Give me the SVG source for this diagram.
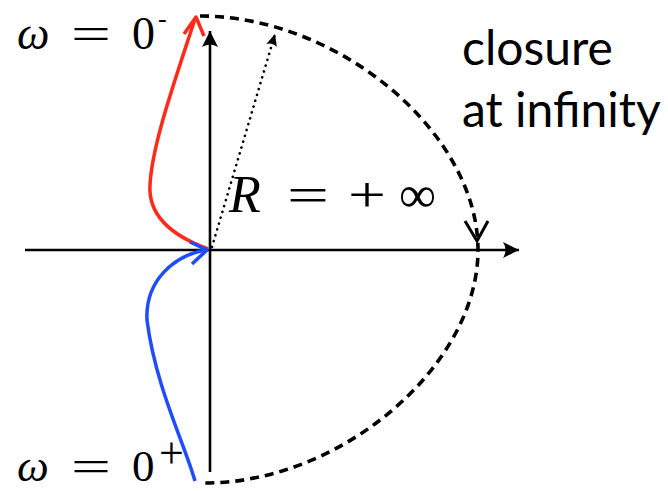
<svg xmlns="http://www.w3.org/2000/svg" width="668" height="491" viewBox="0 0 668 491">
<defs>
<style>
.axis{stroke:#000;stroke-width:2.6;fill:none}
.math{font-family:"Liberation Serif","Times New Roman",serif;fill:#000}
.it{font-style:italic}
.sans{font-family:Lato,"Noto Sans",sans-serif;font-size:48px;fill:#000}
.head{fill:#000;stroke:none}
</style>
<marker id="ah" viewBox="0 0 20 20" refX="18" refY="10" markerWidth="20" markerHeight="20" markerUnits="userSpaceOnUse" orient="auto">
<path d="M18,10 L2,2 Q7,10 2,18 Z" class="head"/>
</marker>
<marker id="ahs" viewBox="0 0 14 14" refX="13" refY="7" markerWidth="14" markerHeight="14" markerUnits="userSpaceOnUse" orient="auto">
<path d="M13,7 L1,1.5 Q4.5,7 1,12.5 Z" class="head"/>
</marker>
</defs>
<g id="axes">
<line class="axis" x1="25" y1="250" x2="519" y2="250" marker-end="url(#ah)"/>
<line class="axis" x1="210" y1="472" x2="210" y2="31" marker-end="url(#ah)"/>
</g>
<g id="connectors">
<path id="closure-arc" d="M200,16 C339,16 478,133 478,250 C478,366 341,483 205,483" fill="none" stroke="#000" stroke-width="3.6" stroke-dasharray="9,6"/>
<polyline points="465,221 477,241 488,221" fill="none" stroke="#000" stroke-width="3"/>
<line x1="212" y1="247" x2="275" y2="34" stroke="#000" stroke-width="2.6" stroke-dasharray="0.1,6" stroke-linecap="round" marker-end="url(#ahs)"/>
<path id="red-curve" d="M208,249 C170,235 148,215 150,185 C152,145 175,80 195,19" fill="none" stroke="#ff2a1a" stroke-width="3.5"/>
<polyline points="184,34 196,17 204,36" fill="none" stroke="#ff2a1a" stroke-width="3.5" stroke-linejoin="round"/>
<path id="blue-curve" d="M195,481 C185,445 155,385 147,320 C145,280 175,255 206,250" fill="none" stroke="#1f4cff" stroke-width="3.5"/>
<polyline points="190,242 207,250 192,264" fill="none" stroke="#1f4cff" stroke-width="3.5" stroke-linejoin="round"/>
</g>
<g id="label-top">
<text class="math it" x="17" y="49" font-size="46">ω</text>
<text class="math" x="71" y="49" font-size="46" textLength="40" lengthAdjust="spacingAndGlyphs">=</text>
<text class="math" x="132" y="49" font-size="46">0</text>
<text class="math" x="158" y="27" font-size="26">-</text>
</g>
<g id="label-bottom">
<text class="math it" x="17" y="481" font-size="45">ω</text>
<text class="math" x="71" y="481" font-size="45" textLength="40" lengthAdjust="spacingAndGlyphs">=</text>
<text class="math" x="132" y="481" font-size="45">0</text>
<text class="math" x="159" y="468" font-size="44">+</text>
</g>
<g id="label-R">
<text class="math it" x="229" y="212" font-size="52">R</text>
<text class="math" x="287" y="212" font-size="50" textLength="42" lengthAdjust="spacingAndGlyphs">=</text>
<text class="math" x="348" y="212" font-size="50" textLength="38" lengthAdjust="spacingAndGlyphs">+</text>
<text class="math" x="399" y="212" font-size="52">∞</text>
</g>
<g id="label-closure">
<text class="sans" x="462" y="65">closure</text>
<text class="sans" x="462" y="127">at infinity</text>
</g>
</svg>
